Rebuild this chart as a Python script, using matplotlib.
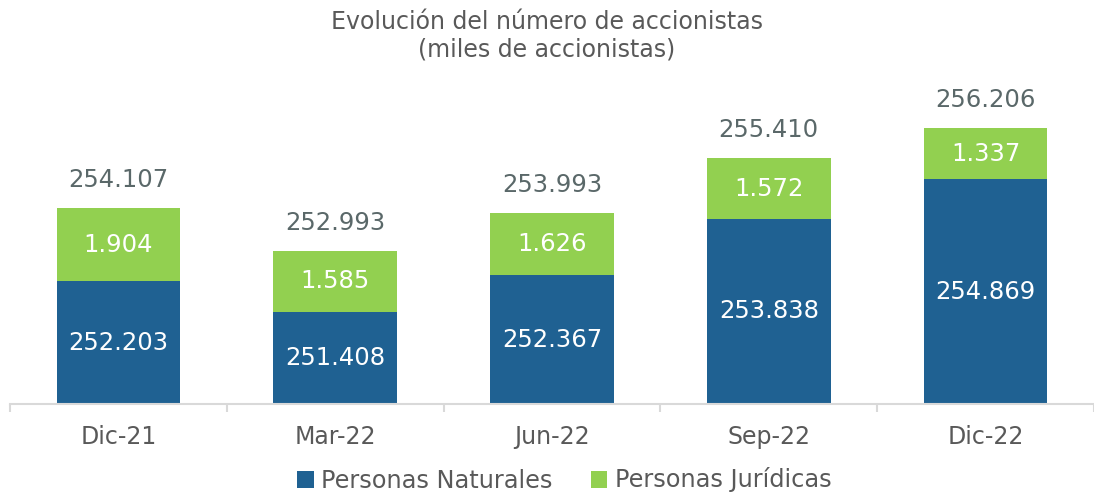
import numpy as np
import matplotlib.pyplot as plt

periodos = ["Dic-21", "Mar-22", "Jun-22", "Sep-22", "Dic-22"]
naturales = [252.203, 251.408, 252.367, 253.838, 254.869]
juridicas = [1.904, 1.585, 1.626, 1.572, 1.337]
totales = [254.107, 252.993, 253.993, 255.410, 256.206]

azul = "#1F6192"
verde = "#92D050"
gris = "#595959"

def fmt(v):
    return f"{v:.3f}"

fig = plt.figure(figsize=(10.94, 4.93), dpi=100)
ax = fig.add_axes([10 / 1094, 1 - 404 / 493, 1084 / 1094, 404 / 493])

x = np.arange(len(periodos))
ancho = 0.57
b1 = ax.bar(x, naturales, ancho, color=azul, label="Personas Naturales")
b2 = ax.bar(x, juridicas, ancho, bottom=naturales, color=verde, label="Personas Jurídicas")

base = 249.0
ax.set_ylim(base, base + 404 / 38.3)
ax.set_xlim(-0.5, -0.5 + 1084 / 219)

for i in range(len(periodos)):
    ax.text(x[i], (base + naturales[i]) / 2, fmt(naturales[i]), ha="center", va="center",
            color="white", fontsize=17.5)
    ax.text(x[i], naturales[i] + juridicas[i] / 2, fmt(juridicas[i]), ha="center", va="center",
            color="white", fontsize=17.5)
    ax.annotate(fmt(totales[i]), (x[i], naturales[i] + juridicas[i]), xytext=(0, 28),
                textcoords="offset pixels", ha="center", va="center", color="#5A6869", fontsize=17.5)

for s in ["top", "right", "left"]:
    ax.spines[s].set_visible(False)
ax.spines["bottom"].set_color("#D9D9D9")
ax.spines["bottom"].set_linewidth(1.5)
ax.set_yticks([])
ax.set_xticks(x)
ax.set_xticklabels(periodos, fontsize=17, color=gris)
ax.tick_params(axis="x", which="major", length=0, pad=15)
ax.set_xticks(np.arange(-0.5, 4.6, 1), minor=True)
ax.tick_params(axis="x", which="minor", length=6, width=1.5, color="#D9D9D9")

fig.text(0.5, 1 - 22 / 493, "Evolución del número de accionistas",
         ha="center", va="center", fontsize=17, color=gris)
fig.text(0.5, 1 - 50 / 493, "(miles de accionistas)",
         ha="center", va="center", fontsize=17, color=gris)

fig.legend(handles=[b1, b2], loc="center", bbox_to_anchor=(564 / 1094, 1 - 480 / 493), ncol=2,
           frameon=False, fontsize=17.3, labelcolor=gris, handlelength=0.7, handleheight=0.7,
           handletextpad=0.3, columnspacing=1.6)

fig.savefig("out.png", dpi=100)
